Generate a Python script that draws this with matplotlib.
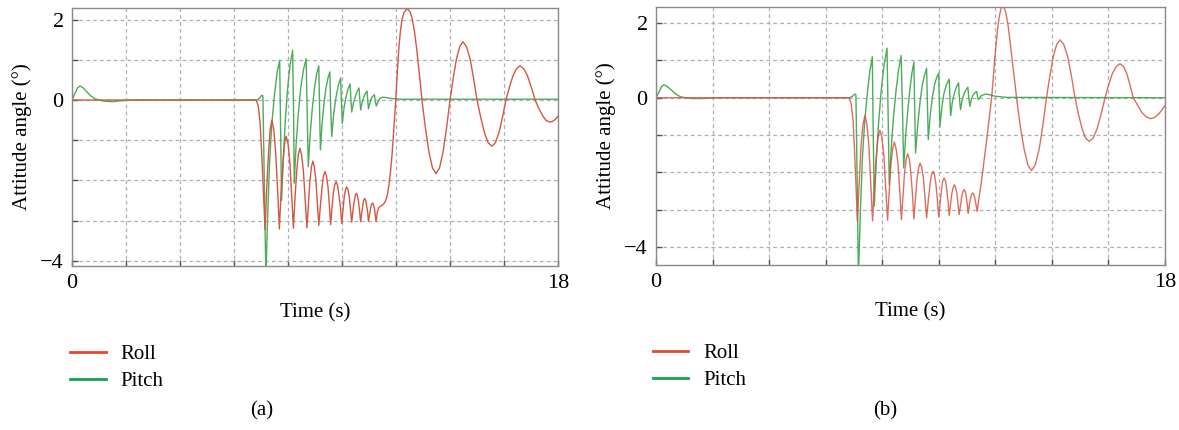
import matplotlib
matplotlib.use("Agg")
import matplotlib.pyplot as plt
from matplotlib.lines import Line2D

plt.rcParams['font.family'] = ['Liberation Serif', 'DejaVu Serif']

# ---- panel (a) data ----
t_roll_a = [0, 6.82, 6.9, 6.97, 7.03, 7.09, 7.15,
            7.21, 7.28, 7.34, 7.4, 7.47, 7.54, 7.61, 7.68,
            7.74, 7.81, 7.87, 7.93, 8.0, 8.07, 8.13, 8.2,
            8.26, 8.32, 8.38, 8.44, 8.5, 8.57, 8.63, 8.7,
            8.76, 8.81, 8.87, 8.92, 8.97, 9.03, 9.08, 9.14,
            9.2, 9.26, 9.31, 9.37, 9.42, 9.48, 9.53, 9.58,
            9.63, 9.68, 9.73, 9.78, 9.83, 9.88, 9.94, 9.99,
            10.04, 10.08, 10.13, 10.17, 10.22, 10.27, 10.31, 10.36,
            10.4, 10.45, 10.49, 10.53, 10.57, 10.61, 10.65, 10.69,
            10.73, 10.77, 10.8, 10.84, 10.88, 10.91, 10.95, 10.98,
            11.02, 11.06, 11.09, 11.13, 11.16, 11.2, 11.23, 11.26,
            11.31, 11.36, 11.42, 11.48, 11.55, 11.62, 11.68, 11.74, 11.8, 11.86, 11.93,
            11.99, 12.05, 12.1, 12.16, 12.22, 12.29, 12.36, 12.44,
            12.52, 12.6, 12.68, 12.76, 12.83, 12.9, 12.96,
            13.09, 13.22, 13.35, 13.48, 13.61, 13.74, 13.87, 14.0,
            14.12, 14.24, 14.36, 14.48, 14.61, 14.74, 14.87, 15.0,
            15.14, 15.28, 15.41, 15.55, 15.68, 15.81, 15.94, 16.07,
            16.2, 16.33, 16.46, 16.59, 16.73, 16.87, 17.01, 17.15,
            17.29, 17.43, 17.56, 17.7, 17.8, 17.9, 18.0]
roll_a = [0, 0, -0.15, -0.6, -1.4, -2.3, -3.23,
          -2.19, -1.29, -0.72, -0.5, -0.72, -1.29, -2.18, -3.21,
          -2.33, -1.57, -1.08, -0.9, -1.08, -1.56, -2.32, -3.19,
          -2.43, -1.78, -1.36, -1.2, -1.36, -1.77, -2.43, -3.18,
          -2.55, -2.0, -1.65, -1.52, -1.65, -1.98, -2.51, -3.12,
          -2.61, -2.17, -1.89, -1.78, -1.89, -2.16, -2.6, -3.1,
          -2.67, -2.31, -2.11, -2.03, -2.11, -2.33, -2.66, -3.07,
          -2.72, -2.42, -2.23, -2.16, -2.23, -2.41, -2.71, -3.04,
          -2.77, -2.53, -2.38, -2.32, -2.38, -2.53, -2.76, -3.03,
          -2.81, -2.62, -2.5, -2.45, -2.5, -2.62, -2.8, -3.02,
          -2.85, -2.69, -2.6, -2.56, -2.6, -2.69, -2.85, -3.02,
          -2.78, -2.68, -2.64, -2.62, -2.58, -2.5, -2.36, -2.1, -1.75, -1.3, -0.6,
          0.0, 0.72, 1.25, 1.7, 2.0, 2.17, 2.24, 2.26,
          2.2, 2.02, 1.72, 1.3, 0.86, 0.42, 0.0,
          -0.7, -1.3, -1.69, -1.83, -1.69, -1.3, -0.7, 0.0,
          0.55, 1.03, 1.33, 1.45, 1.33, 1.03, 0.55, 0.0,
          -0.44, -0.82, -1.06, -1.15, -1.06, -0.82, -0.44, 0.0,
          0.32, 0.6, 0.78, 0.85, 0.78, 0.6, 0.32, 0.0,
          -0.21, -0.39, -0.51, -0.55, -0.53, -0.48, -0.4]

t_pitch_a = [0, 0.1, 0.2, 0.3, 0.42, 0.55, 0.7, 0.85, 1.0, 1.2, 1.5, 1.8, 2.2,
             6.85, 6.95, 7.03, 7.07, 7.12, 7.18,
             7.25, 7.32, 7.4, 7.5, 7.6, 7.69, 7.72, 7.76,
             7.83, 7.9, 7.98, 8.07, 8.17, 8.2, 8.23,
             8.3, 8.38, 8.47, 8.57, 8.67, 8.71, 8.75,
             8.82, 8.9, 8.98, 9.06, 9.14, 9.17, 9.2,
             9.26, 9.33, 9.4, 9.48, 9.55, 9.58, 9.62,
             9.68, 9.75, 9.82, 9.89, 9.95, 9.98, 10.01,
             10.07, 10.14, 10.22, 10.3, 10.33, 10.36,
             10.42, 10.5, 10.57, 10.63, 10.66, 10.69,
             10.75, 10.82, 10.88, 10.93, 10.95, 10.98,
             11.04, 11.1, 11.16, 11.2, 11.23, 11.27,
             11.33, 11.4, 11.5, 11.65, 11.8, 12.2, 18.0]
pitch_a = [0, 0.15, 0.3, 0.35, 0.3, 0.2, 0.1, 0.03, 0.0, -0.03, -0.04, -0.02, 0.0,
           0.0, 0.05, 0.12, 0.1, -2.0, -4.4,
           -2.8, -1.5, -0.6, 0.15, 0.7, 0.99, -0.5, -2.5,
           -1.4, -0.5, 0.25, 0.85, 1.24, 0.0, -2.07,
           -1.1, -0.35, 0.3, 0.75, 1.03, -0.3, -1.66,
           -0.85, -0.2, 0.3, 0.65, 0.85, -0.3, -1.24,
           -0.6, -0.1, 0.28, 0.55, 0.7, -0.2, -0.91,
           -0.42, -0.05, 0.23, 0.43, 0.55, -0.1, -0.58,
           -0.22, 0.05, 0.27, 0.4, 0.0, -0.3,
           -0.08, 0.1, 0.23, 0.3, 0.0, -0.25,
           -0.05, 0.1, 0.18, 0.22, 0.0, -0.22,
           -0.05, 0.06, 0.11, 0.13, -0.02, -0.15,
           -0.05, 0.04, 0.07, 0.06, 0.04, 0.02, 0.02]

# ---- panel (b) data ----
t_roll_b = [0, 6.82, 6.9, 6.97, 7.02, 7.07, 7.12,
            7.19, 7.25, 7.32, 7.39, 7.46, 7.53, 7.59, 7.66,
            7.72, 7.79, 7.85, 7.92, 7.99, 8.06, 8.12, 8.19,
            8.25, 8.31, 8.37, 8.43, 8.49, 8.56, 8.62, 8.68,
            8.74, 8.79, 8.85, 8.9, 8.96, 9.01, 9.07, 9.12,
            9.18, 9.23, 9.29, 9.34, 9.4, 9.46, 9.51, 9.57,
            9.63, 9.69, 9.74, 9.8, 9.85, 9.9, 9.95, 10.0,
            10.05, 10.1, 10.14, 10.19, 10.24, 10.28, 10.33, 10.37,
            10.42, 10.46, 10.51, 10.55, 10.59, 10.64, 10.68, 10.72,
            10.77, 10.81, 10.86, 10.9, 10.94, 10.97, 11.01, 11.04,
            11.08, 11.12, 11.16, 11.2, 11.24, 11.28, 11.32, 11.36,
            11.42, 11.5, 11.6, 11.7, 11.8, 11.87,
            11.93, 11.98, 12.04, 12.09, 12.14, 12.2, 12.25,
            12.31, 12.37, 12.44, 12.5, 12.56, 12.62, 12.69, 12.75,
            12.88, 13.02, 13.15, 13.28, 13.41, 13.55, 13.68, 13.81,
            13.93, 14.05, 14.17, 14.29, 14.42, 14.56, 14.69, 14.82,
            14.94, 15.07, 15.19, 15.32, 15.46, 15.6, 15.74, 15.88,
            16.01, 16.14, 16.28, 16.41, 16.53, 16.65, 16.76, 16.88,
            17.04, 17.19, 17.35, 17.5, 17.63, 17.76, 17.88, 18.0]
roll_b = [0, 0, -0.15, -0.6, -1.4, -2.3, -3.3,
          -2.23, -1.3, -0.71, -0.48, -0.71, -1.3, -2.23, -3.3,
          -2.38, -1.57, -1.06, -0.87, -1.06, -1.57, -2.37, -3.28,
          -2.49, -1.76, -1.36, -1.19, -1.36, -1.76, -2.48, -3.27,
          -2.6, -2.01, -1.64, -1.5, -1.64, -2.0, -2.58, -3.25,
          -2.68, -2.19, -1.87, -1.75, -1.87, -2.17, -2.66, -3.22,
          -2.75, -2.33, -2.07, -1.97, -2.07, -2.32, -2.73, -3.19,
          -2.79, -2.45, -2.23, -2.15, -2.23, -2.44, -2.78, -3.16,
          -2.84, -2.57, -2.4, -2.33, -2.39, -2.56, -2.83, -3.13,
          -2.88, -2.65, -2.51, -2.46, -2.51, -2.64, -2.86, -3.1,
          -2.89, -2.71, -2.59, -2.55, -2.59, -2.7, -2.87, -3.05,
          -2.7, -2.3, -1.7, -1.1, -0.45, 0.0,
          0.55, 1.05, 1.5, 1.9, 2.17, 2.38, 2.45,
          2.42, 2.28, 2.0, 1.65, 1.25, 0.85, 0.42, 0.0,
          -0.75, -1.38, -1.8, -1.95, -1.8, -1.38, -0.75, 0.0,
          0.59, 1.1, 1.43, 1.55, 1.43, 1.1, 0.59, 0.0,
          -0.44, -0.83, -1.08, -1.17, -1.08, -0.83, -0.44, 0.0,
          0.35, 0.65, 0.84, 0.91, 0.84, 0.65, 0.35, 0.0,
          -0.21, -0.4, -0.52, -0.56, -0.53, -0.45, -0.34, -0.21]

t_pitch_b = [0, 0.1, 0.2, 0.28, 0.4, 0.55, 0.7, 0.85, 1.03, 1.3, 1.7, 2.2,
             6.85, 6.95, 7.03, 7.07, 7.11, 7.16,
             7.23, 7.3, 7.38, 7.47, 7.56, 7.65, 7.68, 7.72,
             7.79, 7.87, 7.96, 8.06, 8.17, 8.21, 8.25,
             8.32, 8.4, 8.49, 8.58, 8.67, 8.72, 8.76,
             8.83, 8.91, 8.99, 9.06, 9.12, 9.15, 9.18,
             9.26, 9.34, 9.42, 9.5, 9.57, 9.6, 9.63,
             9.7, 9.78, 9.86, 9.93, 10.0, 10.02, 10.04,
             10.11, 10.18, 10.27, 10.37, 10.4, 10.42,
             10.48, 10.55, 10.63, 10.7, 10.73, 10.77,
             10.83, 10.9, 10.97, 11.03, 11.06, 11.1,
             11.16, 11.23, 11.29, 11.34, 11.37, 11.4,
             11.5, 11.65, 11.8, 12.0, 12.4, 18.0]
pitch_b = [0, 0.15, 0.3, 0.35, 0.3, 0.2, 0.1, 0.03, 0.0, -0.02, -0.02, 0.0,
           0.0, 0.04, 0.1, 0.08, -2.0, -4.8,
           -3.0, -1.6, -0.65, 0.1, 0.7, 1.1, -0.8, -2.9,
           -1.7, -0.7, 0.15, 0.85, 1.33, -0.5, -2.33,
           -1.35, -0.5, 0.2, 0.75, 1.13, -0.4, -1.88,
           -1.0, -0.3, 0.3, 0.7, 0.96, -0.3, -1.48,
           -0.7, -0.1, 0.35, 0.62, 0.79, -0.2, -1.12,
           -0.45, 0.05, 0.38, 0.55, 0.66, -0.1, -0.78,
           -0.25, 0.1, 0.35, 0.5, -0.1, -0.48,
           -0.12, 0.12, 0.3, 0.4, 0.0, -0.32,
           -0.05, 0.12, 0.22, 0.28, 0.0, -0.23,
           -0.02, 0.09, 0.14, 0.17, 0.03, -0.05,
           0.05, 0.1, 0.08, 0.04, 0.01, 0.0]

yticks = [-4, -3, -2, -1, 0, 1, 2]
ytick_labels = ['\u22124', '', '', '', '0', '', '2']
xticks = [0, 2, 4, 6, 8, 10, 12, 14, 16, 18]
xtick_labels = ['0', '', '', '', '', '', '', '', '', '18']

RED = '#d65543'
GREEN = '#4dac5a'
LEG_RED = '#e8432b'
LEG_GREEN = '#16a04f'

fig = plt.figure(figsize=(11.79, 4.30), dpi=100)
ax_a = fig.add_axes([0.0611, 0.3814, 0.4122, 0.6])
ax_b = fig.add_axes([0.5564, 0.3837, 0.4317, 0.6])

panels = [
    (ax_a, t_roll_a, roll_a, t_pitch_a, pitch_a, (-4.13, 2.29), '(a)'),
    (ax_b, t_roll_b, roll_b, t_pitch_b, pitch_b, (-4.48, 2.43), '(b)'),
]

for ax, tr, r, tp, p, ylim, tag in panels:
    ax.plot(tp, p, color=GREEN, lw=1.0)
    ax.plot(tr, r, color=RED, lw=1.0, alpha=0.85 if tag == '(b)' else 1.0)
    ax.set_xlim(0, 18)
    ax.set_ylim(*ylim)
    ax.set_xticks(xticks, xtick_labels)
    ax.set_yticks(yticks, ytick_labels)
    ax.grid(True, color='#a9b0b8', lw=0.9, linestyle=(0, (3, 2.5)))
    ax.tick_params(direction='in', length=4, width=1.0, color='#555555',
                   labelsize=16, pad=6)
    for s in ax.spines.values():
        s.set_color('#8a8a8a')
        s.set_linewidth(1.0)
    ax.set_xlabel('Time (s)', fontsize=15, labelpad=7)
    ax.set_ylabel('Attitude angle (\u00b0)', fontsize=15, labelpad=6)

    handles = [Line2D([], [], color=LEG_RED, lw=2),
               Line2D([], [], color=LEG_GREEN, lw=2)]
    ax.legend(handles, ['Roll', 'Pitch'], loc='upper left',
              bbox_to_anchor=(-0.004 if tag == '(a)' else -0.006, -0.305),
              frameon=False, fontsize=15, handlelength=1.7,
              handletextpad=0.7, labelspacing=0.34, borderpad=0, borderaxespad=0)

fig.text(262 / 1179, 1 - 411 / 430, '(a)', ha='center', va='center', fontsize=15)
fig.text(885 / 1179, 1 - 411 / 430, '(b)', ha='center', va='center', fontsize=15)

fig.savefig('out.png', dpi=100)
